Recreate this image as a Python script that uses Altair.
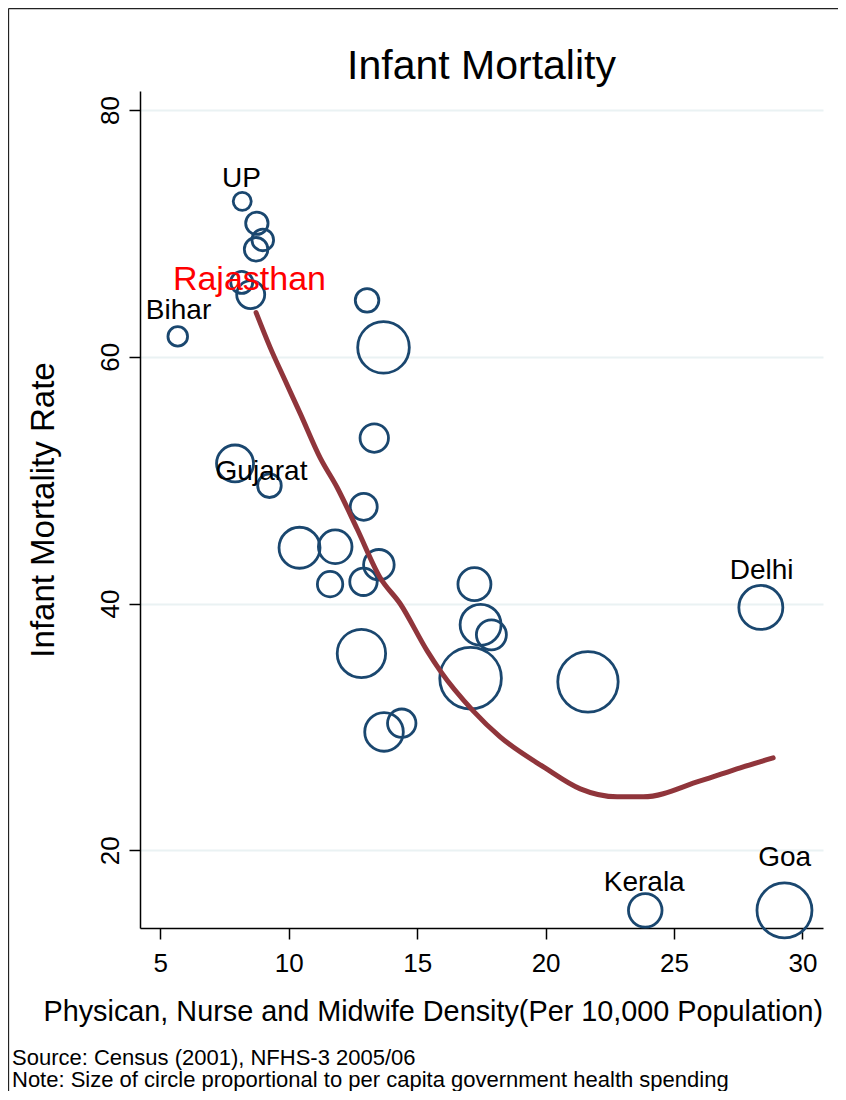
import altair as alt
import pandas as pd

FONT = "Liberation Sans"

# ---- data ----
density = [8.19, 8.76, 8.99, 8.73, 8.17, 8.52, 5.68, 13.05, 13.69, 7.91,
           9.25, 13.33, 12.92, 10.42, 11.81, 13.51, 11.61, 12.91, 12.83, 13.71,
           14.40, 17.23, 17.47, 17.89, 17.08, 28.38, 21.65, 23.88, 29.30]
imr = [72.60, 70.82, 69.47, 68.71, 66.03, 65.04, 61.65, 64.57, 60.76, 51.35,
       49.55, 53.41, 47.84, 44.52, 44.60, 43.14, 41.57, 41.76, 35.95, 29.59,
       30.30, 41.57, 38.27, 37.46, 33.95, 39.68, 33.65, 15.13, 15.13]
spending = [81, 125, 117, 139, 121, 196, 96, 139, 666, 342,
            139, 202, 182, 420, 282, 234, 161, 188, 586, 372,
            202, 272, 420, 225, 949, 484, 912, 282, 756]

fit_x = [8.73, 9.28, 9.86, 10.45, 11.22, 11.89, 12.66, 13.56, 14.34, 15.39,
         15.90, 17.18, 18.23, 19.98, 21.35, 22.79, 23.80, 26.02, 27.58, 28.86]
fit_y = [63.58, 60.74, 58.07, 55.39, 51.82, 49.38, 46.06, 42.09, 39.98, 36.16,
         34.54, 31.30, 29.19, 26.68, 24.98, 24.33, 24.33, 25.62, 26.68, 27.49]

label_text = ["UP", "Bihar", "Rajasthan", "Gujarat", "Delhi", "Kerala", "Goa"]
label_x = [8.16, 5.71, 8.47, 8.94, 28.41, 23.84, 29.31]
label_y = [73.74, 63.07, 65.42, 50.05, 42.02, 16.69, 18.73]
label_color = ["black", "black", "red", "black", "black", "black", "black"]
label_size = [28, 28, 34, 28, 28, 28, 28]

x_ticks = [5, 10, 15, 20, 25, 30]
y_ticks = [20, 40, 60, 80]

title_text = "Infant Mortality"
x_title = "Physican, Nurse and Midwife Density(Per 10,000 Population)"
y_title = "Infant Mortality Rate"
source_line = "Source: Census (2001), NFHS-3 2005/06"
note_line = "Note: Size of circle proportional to per capita government health spending"

pts = pd.DataFrame({"density": density, "imr": imr, "spending": spending})
fit = pd.DataFrame({"density": fit_x, "imr": fit_y})
labels = pd.DataFrame({"text": label_text, "density": label_x, "imr": label_y,
                       "color": label_color, "size": label_size})

xscale = alt.Scale(domain=[4.21, 30.8], nice=False, zero=False)
yscale = alt.Scale(domain=[13.7, 81.54], nice=False, zero=False)

xaxis = alt.Axis(values=x_ticks, grid=False, title=x_title,
                 titleFont=FONT, titleFontSize=28.8, titleFontWeight="normal",
                 titleColor="black", titleX=-97, titleY=92.5, titleAlign="left",
                 titleBaseline="alphabetic",
                 labelFont=FONT, labelFontSize=26, labelColor="black",
                 labelBaseline="alphabetic", labelPadding=32,
                 tickSize=11, tickColor="black", tickWidth=1.5,
                 domainColor="black", domainWidth=1.5)
yaxis = alt.Axis(values=y_ticks, grid=True, gridColor="#eaf2f3", gridWidth=2,
                 title=y_title, titleFont=FONT, titleFontSize=33,
                 titleFontWeight="normal", titleColor="black", titleAngle=270,
                 titleX=-87, titleY=418.5, titleAlign="center",
                 titleBaseline="alphabetic",
                 labelFont=FONT, labelFontSize=26, labelColor="black",
                 labelAngle=270, labelAlign="center", labelBaseline="alphabetic",
                 labelPadding=11, tickSize=11, tickColor="black", tickWidth=1.5,
                 domainColor="black", domainWidth=1.5)

one = pd.DataFrame({"f": [0]})

# outer graph-region border (only its top and left edges are inside the picture)
frame_top = alt.Chart(one).mark_rule(stroke="#222222", strokeWidth=1.3).encode(
    x=alt.value(-131.5), x2=alt.value(700), y=alt.value(-82.5))
frame_left = alt.Chart(one).mark_rule(stroke="#222222", strokeWidth=1.3).encode(
    x=alt.value(-131.5), y=alt.value(-82.5), y2=alt.value(1000))

bubbles = alt.Chart(pts).mark_point(
    shape="circle", filled=False, color="#1a476f", strokeWidth=2.8, opacity=1
).encode(
    x=alt.X("density:Q", scale=xscale, axis=xaxis),
    y=alt.Y("imr:Q", scale=yscale, axis=yaxis),
    size=alt.Size("spending:Q", scale=alt.Scale(domain=[0, 1000], range=[0, 4000], zero=True),
                  legend=None),
)

curve = alt.Chart(fit).mark_line(
    color="#90353b", strokeWidth=5, strokeCap="round", strokeJoin="round",
    interpolate="monotone"
).encode(x=alt.X("density:Q", scale=xscale), y=alt.Y("imr:Q", scale=yscale))

text = alt.Chart(labels).mark_text(
    font=FONT, align="center", baseline="alphabetic"
).encode(
    x=alt.X("density:Q", scale=xscale),
    y=alt.Y("imr:Q", scale=yscale),
    text="text:N",
    color=alt.Color("color:N", scale=None),
    size=alt.Size("size:Q", scale=None),
)

title = alt.Chart(one).mark_text(
    text=title_text, font=FONT, fontSize=41, align="center",
    baseline="alphabetic", color="black"
).encode(x=alt.value(341.5), y=alt.value(-12))

source = alt.Chart(one).mark_text(
    text=source_line, font=FONT, fontSize=22, align="left",
    baseline="alphabetic", color="black"
).encode(x=alt.value(-128), y=alt.value(974))

note = alt.Chart(one).mark_text(
    text=note_line, font=FONT, fontSize=22, align="left",
    baseline="alphabetic", color="black"
).encode(x=alt.value(-128), y=alt.value(996))

chart = alt.layer(frame_top, frame_left, bubbles, curve, text, title, source, note).properties(
    width=683, height=837,
    padding={"left": 132, "top": 83, "right": 15, "bottom": 163},
    autosize=alt.AutoSizeParams(type="none"),
    background="white",
).configure_view(stroke=None)

chart.save("out.html", embed_options={"renderer": "svg", "actions": False})
